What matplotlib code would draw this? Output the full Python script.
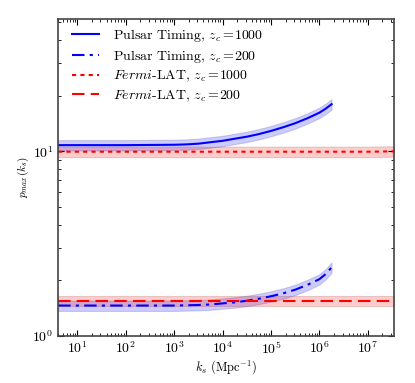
import numpy as np
import matplotlib
matplotlib.use('Agg')
from matplotlib import pyplot as plt

plt.rcParams['font.family'] = 'serif'
plt.rcParams['font.serif'] = ['cmr10']
plt.rcParams['mathtext.fontset'] = 'cm'
plt.rcParams['axes.formatter.use_mathtext'] = True
plt.rcParams['xtick.direction'] = 'in'
plt.rcParams['ytick.direction'] = 'in'
plt.rcParams['xtick.top'] = True
plt.rcParams['ytick.right'] = True
plt.rcParams['xtick.major.size'] = 4
plt.rcParams['ytick.major.size'] = 4
plt.rcParams['xtick.minor.size'] = 2
plt.rcParams['ytick.minor.size'] = 2
plt.rcParams['axes.edgecolor'] = '#444444'
plt.rcParams['axes.linewidth'] = 1.2

# k_s values (Mpc^-1)
k_pt = [4, 1e1, 1e2, 1e3, 10**3.25, 10**3.5, 10**3.75, 1e4, 10**4.25, 10**4.5, 10**4.75,
        1e5, 10**5.25, 10**5.5, 10**5.75, 1e6, 10**6.125, 10**6.25]
p_pt_1000 = [10.8, 10.8, 10.8, 10.85, 10.9, 11.0, 11.2, 11.4, 11.7, 12.0, 12.4,
             12.9, 13.5, 14.2, 15.1, 16.2, 17.0, 18.0]
p_pt_200 = [1.46, 1.46, 1.46, 1.46, 1.465, 1.47, 1.48, 1.50, 1.52, 1.55, 1.59,
            1.64, 1.70, 1.78, 1.89, 2.03, 2.16, 2.35]
band_pt = 0.065

k_fermi = [4, 1e3, 1e5, 1e7, 3.5e7]
p_fermi_1000 = [9.95, 9.95, 9.95, 9.95, 10.0]
p_fermi_200 = [1.55, 1.55, 1.55, 1.55, 1.55]
band_fermi = 0.065

fig = plt.figure(figsize=(4.15, 3.83), dpi=100)
ax = fig.add_axes([0.14, 0.123, 0.81, 0.827])

k_pt = np.array(k_pt)
k_fermi = np.array(k_fermi)
for p in [p_pt_1000, p_pt_200]:
    p = np.array(p)
    ax.fill_between(k_pt, p*(1-band_pt), p*(1+band_pt), facecolor='blue', edgecolor='#333399', alpha=0.2, lw=0.8)
for p in [p_fermi_1000, p_fermi_200]:
    p = np.array(p)
    ax.fill_between(k_fermi, p*(1-band_fermi), p*(1+band_fermi), facecolor='red', edgecolor='#993333', alpha=0.2, lw=0.8)

ax.plot(k_pt, p_pt_1000, c='blue', ls='-', lw=1.5, label=r'Pulsar Timing, $z_c=\!1000$')
ax.plot(k_pt, p_pt_200, c='blue', lw=1.5, dashes=(6, 2.5, 1.5, 2.5), label=r'Pulsar Timing, $z_c=\!200$')
ax.plot(k_fermi, p_fermi_1000, c='red', lw=1.5, dashes=(2, 2), label=r'$\mathit{Fermi}$-LAT, $z_c=\!1000$')
ax.plot(k_fermi, p_fermi_200, c='red', lw=1.5, dashes=(6, 3), label=r'$\mathit{Fermi}$-LAT, $z_c=\!200$')

ax.set_xscale('log')
ax.set_yscale('log')
ax.set_xlim(4, 3.5e7)
ax.set_ylim(1, 52)
ax.set_xticks([1e1, 1e2, 1e3, 1e4, 1e5, 1e6, 1e7])
ax.tick_params(axis='both', which='major', labelsize=10)
ax.set_xlabel(r'$k_s$ (Mpc$^{-1}$)', fontsize=9, labelpad=1)
ax.set_ylabel(r'$p_{max}(k_s)$', fontsize=8, labelpad=1)
ax.legend(loc='upper left', bbox_to_anchor=(0.02, 1.0), frameon=False, fontsize=10,
          handlelength=1.9, labelspacing=0.3, borderaxespad=0.15, handletextpad=1.0)

plt.savefig('out.png', dpi=100)
